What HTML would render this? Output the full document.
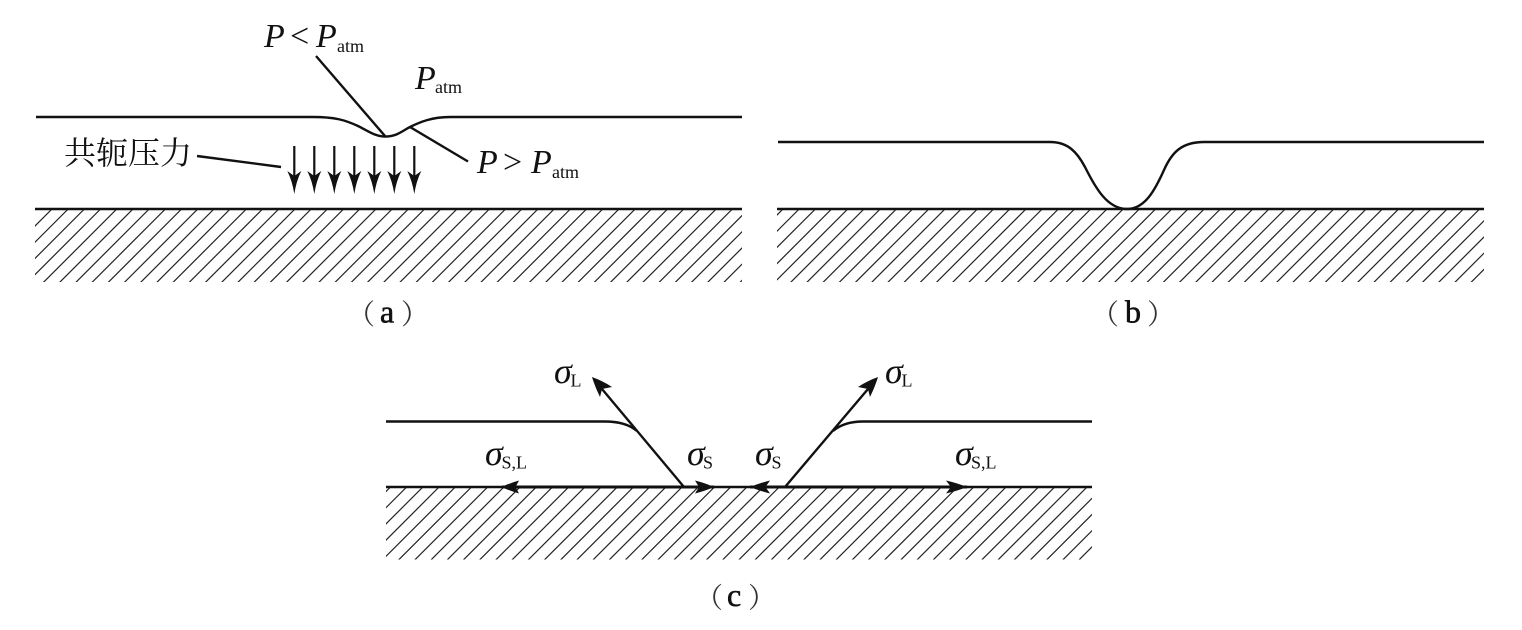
<!DOCTYPE html>
<html lang="zh">
<head>
<meta charset="utf-8">
<title>Diagram</title>
<style>
html,body{margin:0;padding:0;background:#fff;width:1522px;height:630px;overflow:hidden}
svg{display:block}
text{font-family:"Liberation Serif","Noto Serif CJK SC",serif;fill:#111}
.i{font-style:italic;font-size:34px}
.s{font-size:18px}
.g{font-style:italic;font-size:36px}
.o{font-size:34px}
.l{font-size:32px;stroke:#111;stroke-width:.6}
.p{font-size:28px;fill:#333}
.k{font-size:32px;font-family:"Noto Serif CJK SC","Liberation Serif",serif}
.ln{fill:none;stroke:#111;stroke-width:2.4}
.th{fill:none;stroke:#111;stroke-width:3}
.h{fill:none;stroke:#222;stroke-width:1.2}
</style>
</head>
<body>
<svg width="1522" height="630" viewBox="0 0 1522 630" xmlns="http://www.w3.org/2000/svg">
<defs>
<clipPath id="ca"><rect x="35" y="209" width="707" height="73"/></clipPath>
<clipPath id="cb"><rect x="777" y="209" width="707" height="73"/></clipPath>
<clipPath id="cc"><rect x="386" y="487" width="706" height="72.500"/></clipPath>
<path id="hatch" d="M0 0l-90 90m106.200-90l-90 90m106.200-90l-90 90m106.200-90l-90 90m106.200-90l-90 90m106.200-90l-90 90m106.200-90l-90 90m106.200-90l-90 90m106.200-90l-90 90m106.200-90l-90 90m106.200-90l-90 90m106.200-90l-90 90m106.200-90l-90 90m106.200-90l-90 90m106.200-90l-90 90m106.200-90l-90 90m106.200-90l-90 90m106.200-90l-90 90m106.200-90l-90 90m106.200-90l-90 90m106.200-90l-90 90m106.200-90l-90 90m106.200-90l-90 90m106.200-90l-90 90m106.200-90l-90 90m106.200-90l-90 90m106.200-90l-90 90m106.200-90l-90 90m106.200-90l-90 90m106.200-90l-90 90m106.200-90l-90 90m106.200-90l-90 90m106.200-90l-90 90m106.200-90l-90 90m106.200-90l-90 90m106.200-90l-90 90m106.200-90l-90 90m106.200-90l-90 90m106.200-90l-90 90m106.200-90l-90 90m106.200-90l-90 90m106.200-90l-90 90m106.200-90l-90 90m106.200-90l-90 90m106.200-90l-90 90m106.200-90l-90 90m106.200-90l-90 90m106.200-90l-90 90"/>
<g id="ar"><path d="M0 146V176" fill="none" stroke="#111" stroke-width="2.2"/><path d="M0 194Q-2 181 -7 171L0 176L7 171Q2 181 0 194Z" fill="#111"/></g>
</defs>

<!-- (a) -->
<g clip-path="url(#ca)"><use href="#hatch" x="52" y="209" class="h"/></g>
<path class="ln" d="M35 209H742"/>
<path class="ln" d="M36 117H313C335 117 345 120 358 126C368 131 375 136.500 385 136.500C397 136.500 402 131 410 127C420 122 432 117 450 117H742"/>
<path class="ln" d="M316 56L385 136"/>
<path class="ln" d="M410 127L468 161.500"/>
<path class="ln" d="M197 156L281 167"/>
<use href="#ar" x="294.300"/><use href="#ar" x="314.300"/><use href="#ar" x="334.300"/><use href="#ar" x="354.300"/><use href="#ar" x="374.300"/><use href="#ar" x="394.300"/><use href="#ar" x="414.300"/>

<text class="i" x="264" y="47">P</text><text class="o" x="290" y="47">&lt;</text><text class="i" x="316" y="47">P</text><text class="s" x="337" y="52">atm</text>
<text class="i" x="415" y="89">P</text><text class="s" x="435" y="93">atm</text>
<text class="i" x="477" y="173">P</text><text class="o" x="503" y="173">&gt;</text><text class="i" x="531" y="173">P</text><text class="s" x="552" y="178">atm</text>
<text class="k" x="64" y="164">共轭压力</text>

<!-- (b) -->
<g clip-path="url(#cb)"><use href="#hatch" x="783" y="209" class="h"/></g>
<path class="ln" d="M777 209H1484"/>
<path class="ln" d="M778 142H1050C1068 142 1077 152 1085 167C1095 187 1107 209 1127 209C1145 209 1155 190 1164 170C1172 152 1182 142 1204 142H1484"/>

<!-- (c) -->
<g clip-path="url(#cc)"><use href="#hatch" x="390.500" y="487" class="h"/></g>
<path class="ln" d="M386 487H1092"/>
<path class="th" d="M502 487H714M750 487H967"/>
<path class="ln" d="M386 421.500H605C620 421.500 630 425 637 431"/>
<path class="ln" d="M1092 421.500H863C850 421.500 840 425 833 431"/>
<path class="ln" d="M684 487L602 389"/>
<path class="ln" d="M785 487L868 389"/>
<path d="M592 377Q603 381 612 387L602 389L600 397Q595 387 592 377Z" fill="#111"/>
<path d="M878 377Q867 381 858 387L868 389L870 397Q875 387 878 377Z" fill="#111"/>
<path d="M501.500 487Q510 483 519 480.500L515.500 487L519 493.500Q510 491 501.500 487Z" fill="#111"/>
<path d="M714 487Q705 483 695 480.500L699 487L695 493.500Q705 491 714 487Z" fill="#111"/>
<path d="M750 487Q760 483 770 480.500L765.500 487L770 493.500Q760 491 750 487Z" fill="#111"/>
<path d="M967 487Q957 483 946 480.500L951 487L946 493.500Q957 491 967 487Z" fill="#111"/>

<text class="g" x="554" y="383">σ</text><text class="s" x="570.500" y="386.500">L</text>
<text class="g" x="885" y="383">σ</text><text class="s" x="901.500" y="386.500">L</text>
<text class="g" x="485" y="465">σ</text><text class="s" x="501.500" y="468.500">S,L</text>
<text class="g" x="687" y="465">σ</text><text class="s" x="703" y="468.500">S</text>
<text class="g" x="755" y="465">σ</text><text class="s" x="771.500" y="468.500">S</text>
<text class="g" x="955" y="465">σ</text><text class="s" x="971" y="468.500">S,L</text>

<!-- captions -->
<text class="p" x="347" y="324">（</text><text class="l" x="380" y="322.500">a</text><text class="p" x="401" y="324">）</text>
<text class="p" x="1091" y="324">（</text><text class="l" x="1125" y="322.500">b</text><text class="p" x="1147" y="324">）</text>
<text class="p" x="695" y="607.500">（</text><text class="l" x="727" y="606">c</text><text class="p" x="748" y="607.500">）</text>
</svg>
</body>
</html>
